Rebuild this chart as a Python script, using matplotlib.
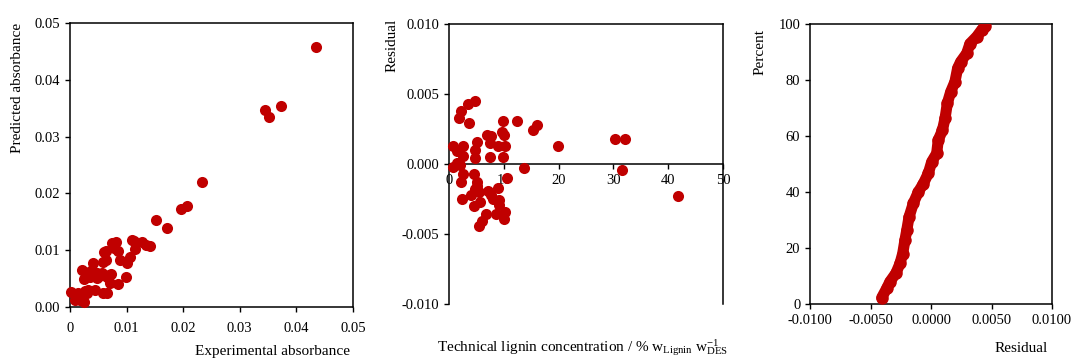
import matplotlib
matplotlib.use("Agg")
import matplotlib.pyplot as plt
import numpy as np

plt.rcParams['font.family'] = ['Liberation Serif', 'DejaVu Serif']
plt.rcParams['mathtext.fontset'] = 'custom'
plt.rcParams['mathtext.rm'] = 'Liberation Serif'
plt.rcParams['mathtext.it'] = 'Liberation Serif:italic'
plt.rcParams['axes.unicode_minus'] = False

red = '#C00000'

# predicted vs experimental absorbance
exp_abs = [0.0435, 0.0345, 0.0352, 0.0372, 0.0233, 0.0207, 0.0196, 0.0152, 0.0171,
           0.0109, 0.0115, 0.0128, 0.0135, 0.0141, 0.0082, 0.0074, 0.0085, 0.0060,
           0.0064, 0.0058, 0.0088, 0.0106, 0.0100, 0.0099, 0.0084, 0.0071, 0.0072,
           0.0065, 0.0056, 0.0041, 0.0022, 0.0027, 0.0024, 0.0035, 0.0047, 0.0047,
           0.0031, 0.0044, 0.0032, 0.0058, 0.0065, 0.0002, 0.0012, 0.0021, 0.0024,
           0.0030, 0.0009, 0.0018, 0.0038, 0.0040, 0.0026, 0.0015, 0.0051, 0.0069,
           0.0064, 0.0078, 0.0113]
pred_abs = [0.0458, 0.0347, 0.0334, 0.0353, 0.0220, 0.0178, 0.0172, 0.0153, 0.0139,
            0.0118, 0.0102, 0.0115, 0.0109, 0.0107, 0.0115, 0.0112, 0.0099, 0.0097,
            0.0083, 0.0080, 0.0083, 0.0088, 0.0077, 0.0053, 0.0040, 0.0043, 0.0058,
            0.0053, 0.0059, 0.0077, 0.0066, 0.0062, 0.0049, 0.0053, 0.0059, 0.0051,
            0.0056, 0.0030, 0.0030, 0.0024, 0.0025, 0.0026, 0.0015, 0.0021, 0.0009,
            0.0024, 0.0012, 0.0012, 0.0066, 0.0060, 0.0028, 0.0025, 0.0055, 0.0056,
            0.0099, 0.0103, 0.0116]

# residuals vs lignin concentration
conc = [4.7, 3.4, 2.1, 1.9, 3.7, 9.8, 12.4, 16.0, 15.4, 9.7, 10.0, 6.9, 7.7, 7.4,
        5.1, 0.7, 2.6, 9.0, 10.3, 19.8, 30.3, 32.1, 4.7, 1.4, 2.5, 9.9, 7.4, 4.7,
        0.8, 2.0, 13.7, 31.5, 2.6, 4.6, 10.5, 2.1, 5.2, 9.0, 4.7, 7.1, 5.4, 4.0,
        7.7, 8.0, 2.3, 9.2, 5.7, 41.7, 4.6, 9.1, 10.2, 6.8, 8.6, 10.1, 6.0, 5.5,
        5.1, 1.5]
resid = [0.0045, 0.0043, 0.0038, 0.0033, 0.0029, 0.0031, 0.0031, 0.0028, 0.0024,
         0.0023, 0.0021, 0.0021, 0.0020, 0.0015, 0.0016, 0.0013, 0.0013, 0.0013,
         0.0013, 0.0013, 0.0018, 0.0018, 0.0010, 0.0009, 0.0006, 0.0005, 0.0005,
         0.0004, -0.0002, -0.0001, -0.0003, -0.0004, -0.0007, -0.0007, -0.0010,
         -0.0013, -0.0013, -0.0017, -0.0018, -0.0019, -0.0020, -0.0022, -0.0022,
         -0.0025, -0.0025, -0.0026, -0.0027, -0.0023, -0.0030, -0.0029, -0.0034,
         -0.0036, -0.0036, -0.0039, -0.0041, -0.0044, -0.0016, 0.0001]

# normal probability plot of residuals
prob_resid = [-0.00407, -0.00366, -0.00339, -0.0029, -0.00256, -0.00234, -0.00215,
              -0.0020, -0.00182, -0.00146, -0.00105, -0.00063, -0.00022, 0.00006,
              0.00047, 0.0006, 0.00094, 0.00116, 0.00135, 0.00163, 0.00198, 0.0022,
              0.00245, 0.00295, 0.00322, 0.00378, 0.00419, 0.00446]
prob_pct = [2.3, 5.6, 8.0, 11.0, 14.5, 18.0, 22.9, 26.4, 31.0, 36.0, 40.0, 43.0, 46.7,
            50.8, 53.8, 58.6, 62.0, 66.3, 71.7, 75.8, 79.4, 84.2, 86.5, 89.5, 93.0,
            95.5, 97.9, 99.3]

fig = plt.figure(figsize=(10.73, 3.6), dpi=100)
ax1 = fig.add_axes([70/1073, 1-307/360, 283/1073, 284/360])
ax2 = fig.add_axes([449/1073, 1-304/360, 274/1073, 280/360])
ax3 = fig.add_axes([810/1073, 1-304/360, 242/1073, 280/360])

for ax in (ax1, ax2, ax3):
    for s in ax.spines.values():
        s.set_linewidth(1.1)
    ax.tick_params(direction='out', length=3.5, width=1.0, labelsize=10.5,
                   top=False, right=False, colors='black')
    ax.tick_params(axis='x', pad=4)
ax1.tick_params(axis='x', pad=7)

# panel 1
ax1.scatter(exp_abs, pred_abs, s=64, color=red, linewidths=0, zorder=3, clip_on=False)
ax1.set_xlim(0, 0.05)
ax1.set_ylim(0, 0.05)
ax1.set_xticks(np.arange(0, 0.051, 0.01))
ax1.set_xticklabels(['0', '0.01', '0.02', '0.03', '0.04', '0.05'])
ax1.set_yticks(np.arange(0, 0.051, 0.01))
ax1.set_yticklabels(['0.00', '0.01', '0.02', '0.03', '0.04', '0.05'])

# panel 2
ax2.scatter(conc, resid, s=64, color=red, linewidths=0, zorder=3, clip_on=False)
ax2.set_xlim(0, 50)
ax2.set_ylim(-0.010, 0.010)
ax2.spines['bottom'].set_position(('data', 0))
ax2.set_xticks([0, 10, 20, 30, 40, 50])
ax2.set_yticks([0.010, 0.005, 0.0, -0.005, -0.010])
ax2.set_yticklabels(['0.010', '0.005', '0.000', '-0.005', '-0.010'])

# panel 3
ax3.plot(prob_resid, prob_pct, color=red, linewidth=8, solid_capstyle='round',
         solid_joinstyle='round', marker='o', markersize=8, zorder=3)
ax3.set_xlim(-0.01, 0.01)
ax3.set_ylim(0, 100)
ax3.set_xticks([-0.01, -0.005, 0.0, 0.005, 0.01])
ax3.set_xticklabels(['-0.0100', '-0.0050', '0.0000', '0.0050', '0.0100'])
ax3.set_yticks([0, 20, 40, 60, 80, 100])

# axis labels placed on the figure
fig.text(350/1073, 1-352/360, 'Experimental absorbance', ha='right', va='center', fontsize=11)
fig.text(18/1073, 1-88/360, 'Predicted absorbance', rotation=90, ha='center', va='center', fontsize=11)
fig.text(392/1073, 1-45/360, 'Residual', rotation=90, ha='center', va='center', fontsize=11)
fig.text(437/1073, 1-348/360,
         r'Technical lignin concentration / % w$_{\mathregular{Lignin}}$ w$_{\mathregular{DES}}^{\mathregular{-1}}$',
         ha='left', va='center', fontsize=11)
fig.text(760/1073, 1-52/360, 'Percent', rotation=90, ha='center', va='center', fontsize=11)
fig.text(1048/1073, 1-348/360, 'Residual', ha='right', va='center', fontsize=11)

fig.savefig('out.png', dpi=100)
